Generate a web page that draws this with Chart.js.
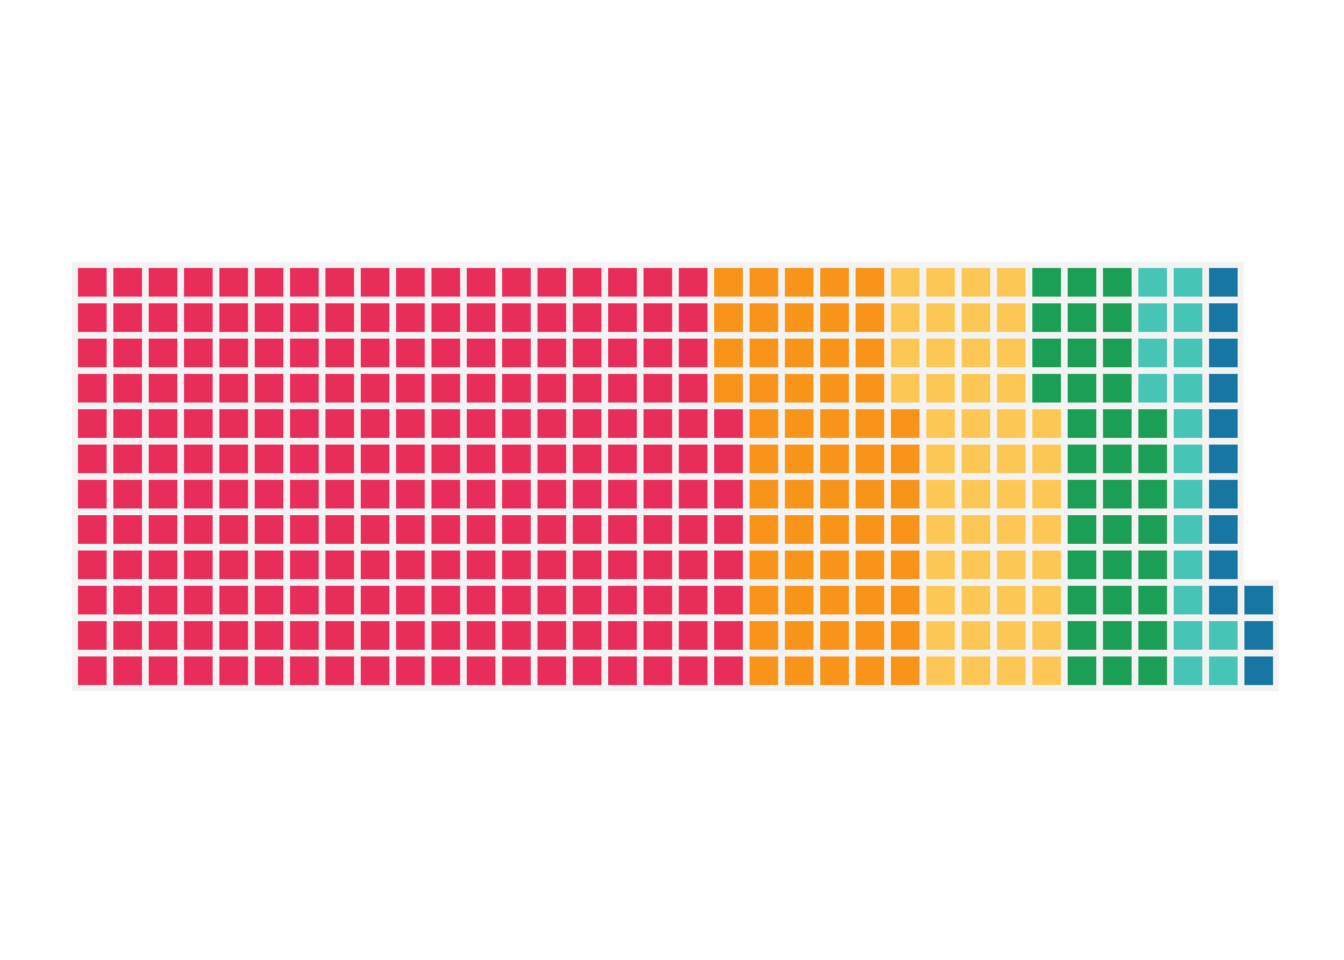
<!DOCTYPE html>
<html>
<head>
<meta charset="utf-8">
<script src="https://cdn.jsdelivr.net/npm/chart.js@4.4.0/dist/chart.umd.min.js"></script>
<style>
  html, body { margin: 0; padding: 0; background: #ffffff; }
  #wrap { width: 1344px; height: 960px; }
</style>
</head>
<body>
<div id="wrap"><canvas id="c" width="1344" height="960"></canvas></div>
<script>
const categories = ['Category A', 'Category B', 'Category C', 'Category D', 'Category E', 'Category F'];
const values = [224, 60, 48, 36, 18, 13];
const colors = ['#E92D5B', '#F8941A', '#FDC756', '#1B9E56', '#46C4B6', '#1877A2'];
const ROWS = 12;
const COLS = 34;

function cellAt(i) {
  return { x: Math.floor(i / ROWS), y: i % ROWS };
}

const datasets = [];
let idx = 0;
categories.forEach((cat, k) => {
  const pts = [];
  for (let j = 0; j < values[k]; j++) { pts.push(cellAt(idx)); idx++; }
  datasets.push({
    label: cat,
    data: pts,
    pointStyle: 'rect',
    pointRadius: 20.5,
    pointHoverRadius: 20.5,
    backgroundColor: colors[k],
    borderColor: 'rgba(255,255,255,0.35)',
    borderWidth: 1,
    clip: false,
    order: 0
  });
});
const total = idx;
const bgPts = [];
for (let i = 0; i < total; i++) bgPts.push(cellAt(i));
datasets.push({
  label: 'bg',
  data: bgPts,
  pointStyle: 'rect',
  pointRadius: 28.7,
  pointHoverRadius: 28.7,
  backgroundColor: '#F3F3F3',
  borderColor: '#F3F3F3',
  borderWidth: 0,
  clip: false,
  order: 10
});

new Chart(document.getElementById('c'), {
  type: 'scatter',
  data: { datasets },
  options: {
    responsive: false,
    animation: false,
    events: [],
    layout: { padding: { left: 74.63, right: 67.63, top: 264.65, bottom: 271.6 } },
    scales: {
      x: { type: 'linear', min: -0.5, max: COLS - 0.5, display: false },
      y: { type: 'linear', min: -0.5, max: ROWS - 0.5, display: false }
    },
    plugins: { legend: { display: false }, tooltip: { enabled: false }, title: { display: false } }
  }
});
</script>
</body>
</html>
